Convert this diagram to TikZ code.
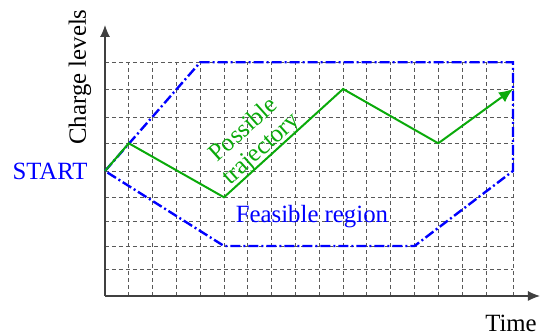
\documentclass[tikz,border=0pt]{standalone}
\usepackage{fontspec}
\setmainfont{Liberation Serif}
\usetikzlibrary{arrows.meta, positioning}
\definecolor{trajgreen}{RGB}{10,170,10}
\definecolor{regionblue}{RGB}{0,0,255}

\begin{document}
\begin{tikzpicture}[
  x=0.5pt, y=0.5pt,
  gridline/.style={draw=black!65, dash pattern=on 2pt off 1.5pt, line width=0.45pt},
  axis/.style={draw=black!75, line width=0.6pt, -{Latex[length=6pt,width=5pt]}},
  region/.style={draw=regionblue, line width=1.2pt,
    dash pattern=on 5pt off 1.5pt on 1pt off 1.5pt},
  traj/.style={draw=trajgreen, line width=1pt},
  lbl/.style={font=\fontsize{12.4}{13}\selectfont, inner sep=0pt}
]
  \useasboundingbox (-105,-39) rectangle (438,296);

  % dashed grid
  \foreach \i in {1,...,16}
    \draw[gridline] (\i*23.81,0) -- (\i*23.81,233.7);
  \foreach \yy in {27,50,75,98.7,125,152.7,178.7,207,233.7}
    \draw[gridline] (0,\yy) -- (408,\yy);
  \draw[gridline] (408,0) -- (408,233.7);

  % axes
  \coordinate (origin) at (0,0);
  \coordinate (ytip)   at (0,271);
  \coordinate (xtip)   at (435,0);
  \draw[axis] (origin) -- (ytip);
  \draw[axis] (origin) -- (xtip);

  % feasible region
  \coordinate (start) at (0,125);
  \coordinate (r1) at (95.2,233.7);
  \coordinate (r2) at (408,233.7);
  \coordinate (r3) at (408,125);
  \coordinate (r4) at (309.5,50);
  \coordinate (r5) at (119,50);
  \draw[region] (start) -- (r1) -- (r2) -- (r3) -- (r4) -- (r5) -- cycle;

  % trajectory
  \coordinate (p1) at (23.8,152.7);
  \coordinate (p2) at (119,98.7);
  \coordinate (p3) at (238.1,207);
  \coordinate (p4) at (333.3,152.7);
  \coordinate (p5) at (408,207);
  \draw[traj, -{Latex[length=7pt,width=6pt]}]
    (start) -- (p1) -- (p2) -- (p3) -- (p4) -- (p5);

  % labels
  \node[lbl, text=regionblue, anchor=east] (startlbl) at (-17,125) {START};
  \node[lbl, rotate=90] (ylbl) at (-25,219) {Charge levels};
  \node[lbl] (xlbl) at (406,-27) {Time};
  \node[lbl, text=regionblue] (regionlbl) at (207,79) {Feasible region};
  \node[lbl, text=trajgreen, rotate=42, align=center] (trajlbl)
    at (148,156) {Possible\\trajectory};
\end{tikzpicture}
\end{document}
